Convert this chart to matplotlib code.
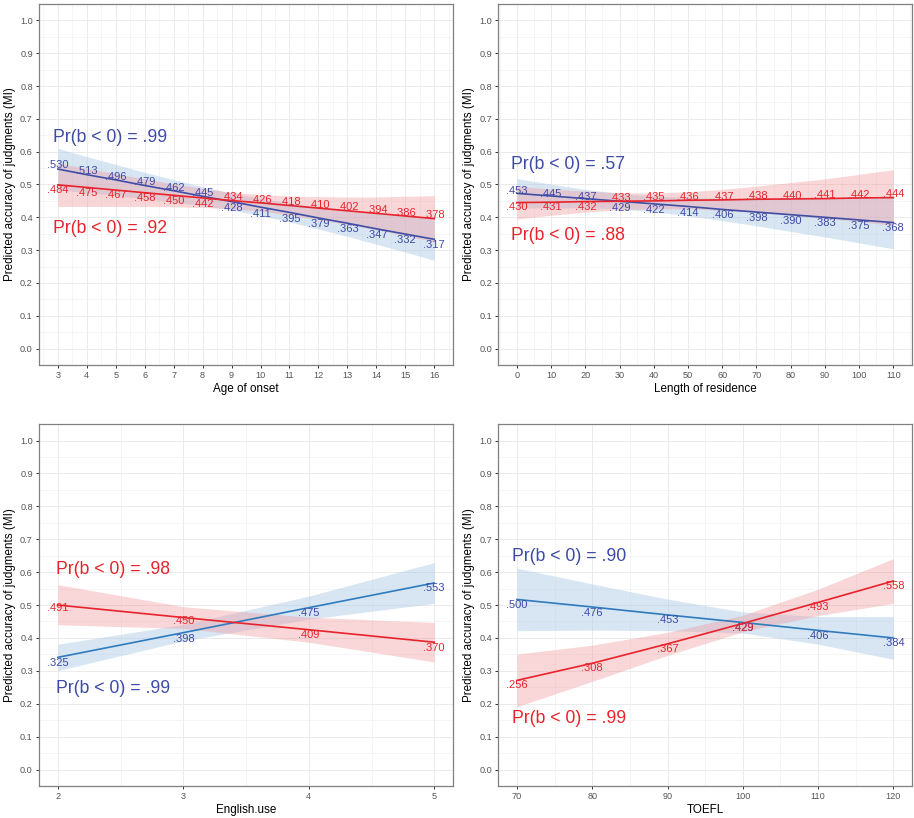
import numpy as np
import matplotlib.pyplot as plt
from matplotlib.ticker import MultipleLocator

plt.rcParams["font.family"] = ["Liberation Sans", "DejaVu Sans"]

RED = "#e8232b"
BLUE_TXT = "#3d4aa6"
BLUE_TOP = "#3f4fa6"
BLUE_BOT = "#2f7bbd"

# --- Age of onset ---
age_x = [3, 4, 5, 6, 7, 8, 9, 10, 11, 12, 13, 14, 15, 16]
age_blue_lab = [.530, .513, .496, .479, .462, .445, .428, .411, .395, .379, .363, .347, .332, .317]
age_red_lab = [.484, .475, .467, .458, .450, .442, .434, .426, .418, .410, .402, .394, .386, .378]
age_blue_fit = [.547, .530, .514, .497, .481, .464, .448, .431, .415, .398, .382, .365, .349, .333]
age_blue_hi = [.610, .585, .561, .537, .515, .493, .474, .457, .444, .432, .422, .412, .404, .397]
age_blue_lo = [.484, .475, .467, .457, .447, .435, .422, .405, .386, .364, .342, .318, .294, .269]
age_red_fit = [.499, .491, .483, .475, .467, .459, .451, .444, .436, .428, .420, .412, .404, .396]
age_red_hi = [.565, .549, .533, .517, .502, .488, .476, .469, .465, .463, .462, .462, .464, .466]
age_red_lo = [.433, .433, .433, .433, .432, .430, .426, .419, .407, .393, .378, .362, .344, .326]

# --- Length of residence ---
lor_x = [0, 10, 20, 30, 40, 50, 60, 70, 80, 90, 100, 110]
lor_blue_lab = [.453, .445, .437, .429, .422, .414, .406, .398, .390, .383, .375, .368]
lor_red_lab = [.430, .431, .432, .433, .435, .436, .437, .438, .440, .441, .442, .444]
lor_blue_fit = [.473, .465, .457, .449, .441, .433, .424, .416, .408, .400, .392, .384]
lor_blue_hi = [.518, .501, .485, .473, .465, .461, .458, .458, .459, .460, .462, .464]
lor_blue_lo = [.428, .429, .429, .425, .417, .405, .390, .374, .357, .340, .322, .304]
lor_red_fit = [.445, .446, .448, .449, .450, .452, .453, .455, .456, .457, .459, .460]
lor_red_hi = [.495, .486, .480, .475, .474, .478, .485, .495, .506, .517, .531, .545]
lor_red_lo = [.395, .406, .416, .423, .426, .426, .421, .415, .406, .397, .387, .375]

# --- English use ---
eng_x = [2, 3, 4, 5]
eng_blue_lab = [.325, .398, .475, .553]
eng_red_lab = [.491, .450, .409, .370]
eng_blue_fit = [.341, .416, .492, .567]
eng_blue_hi = [.381, .441, .527, .629]
eng_blue_lo = [.301, .391, .457, .505]
eng_red_fit = [.500, .462, .425, .387]
eng_red_hi = [.562, .495, .463, .447]
eng_red_lo = [.440, .429, .387, .327]

# --- TOEFL ---
toefl_x = [70, 80, 90, 100, 110, 120]
toefl_blue_lab = [.500, .476, .453, .429, .406, .384]
toefl_red_lab = [.256, .308, .367, .429, .493, .558]
toefl_blue_fit = [.517, .494, .470, .447, .423, .400]
toefl_blue_hi = [.612, .564, .518, .479, .465, .465]
toefl_blue_lo = [.422, .424, .422, .415, .381, .335]
toefl_red_fit = [.271, .323, .382, .444, .508, .573]
toefl_red_hi = [.351, .378, .417, .469, .548, .641]
toefl_red_lo = [.191, .268, .347, .419, .468, .505]


def fmt(v):
    return f"{v:.3f}"[1:]


def panel(ax, x, blab, rlab, bfit, bhi, blo, rfit, rhi, rlo, blue_line,
          xlabel, xticks, minor, nudge, pr_blue, pr_red):
    ax.fill_between(x, blo, bhi, color="#a9c9e6", alpha=0.45, lw=0)
    ax.fill_between(x, rlo, rhi, color="#f09a9e", alpha=0.4, lw=0)
    ax.plot(x, bfit, color=blue_line, lw=1.2)
    ax.plot(x, rfit, color=RED, lw=1.2)
    for xi, b, r in zip(x, blab, rlab):
        db = nudge if (nudge and b >= r) else 0
        dr = nudge if (nudge and r > b) else 0
        ax.text(xi, b + db, fmt(b), color=BLUE_TXT, fontsize=8,
                ha="center", va="center")
        ax.text(xi, r + dr, fmt(r), color=RED, fontsize=8,
                ha="center", va="center")
    ax.text(pr_blue[0], pr_blue[1], "Pr(b < 0) = " + pr_blue[2], color=BLUE_TXT,
            fontsize=12.7, ha="left", va="center")
    ax.text(pr_red[0], pr_red[1], "Pr(b < 0) = " + pr_red[2], color=RED,
            fontsize=12.7, ha="left", va="center")

    span = x[-1] - x[0]
    ax.set_xlim(x[0] - 0.05 * span, x[-1] + 0.05 * span)
    ax.set_ylim(-0.05, 1.05)
    ax.set_xticks(xticks)
    ax.xaxis.set_minor_locator(MultipleLocator(minor))
    ax.set_yticks(np.arange(0, 1.01, 0.1))
    ax.yaxis.set_minor_locator(MultipleLocator(0.05))
    ax.set_yticklabels([f"{v:.1f}" for v in np.arange(0, 1.01, 0.1)])
    ax.grid(which="major", color="#ebebeb", lw=0.7)
    ax.grid(which="minor", color="#f2f2f2", lw=0.5)
    ax.set_axisbelow(True)
    ax.tick_params(which="major", length=2.5, width=0.7, color="#333333",
                   labelcolor="#555555", labelsize=6.6, pad=2)
    ax.tick_params(which="minor", length=0)
    for s in ax.spines.values():
        s.set_color("#808080")
        s.set_linewidth(0.9)
    ax.set_xlabel(xlabel, fontsize=8.4, labelpad=2)
    ax.set_ylabel("Predicted accuracy of judgments (MI)", fontsize=8.4, labelpad=3)


fig = plt.figure(figsize=(9.14, 8.18), dpi=100)
ax1 = fig.add_axes([0.0427, 0.5538, 0.453, 0.4413])
ax2 = fig.add_axes([0.545, 0.5538, 0.453, 0.4413])
ax3 = fig.add_axes([0.0427, 0.0391, 0.453, 0.4425])
ax4 = fig.add_axes([0.545, 0.0391, 0.453, 0.4425])

panel(ax1, age_x, age_blue_lab, age_red_lab, age_blue_fit, age_blue_hi, age_blue_lo,
      age_red_fit, age_red_hi, age_red_lo, BLUE_TOP, "Age of onset", age_x, 0.5, 0.028,
      (2.83, 0.644, ".99"), (2.83, 0.366, ".92"))
panel(ax2, lor_x, lor_blue_lab, lor_red_lab, lor_blue_fit, lor_blue_hi, lor_blue_lo,
      lor_red_fit, lor_red_hi, lor_red_lo, BLUE_TOP, "Length of residence", lor_x, 5, 0.026,
      (-1.6, 0.562, ".57"), (-1.6, 0.345, ".88"))
panel(ax3, eng_x, eng_blue_lab, eng_red_lab, eng_blue_fit, eng_blue_hi, eng_blue_lo,
      eng_red_fit, eng_red_hi, eng_red_lo, BLUE_BOT, "English.use", eng_x, 0.5, 0,
      (1.985, 0.246, ".99"), (1.985, 0.608, ".98"))
panel(ax4, toefl_x, toefl_blue_lab, toefl_red_lab, toefl_blue_fit, toefl_blue_hi, toefl_blue_lo,
      toefl_red_fit, toefl_red_hi, toefl_red_lo, BLUE_BOT, "TOEFL", toefl_x, 5, 0,
      (69.3, 0.649, ".90"), (69.3, 0.156, ".99"))

fig.savefig("out.png", dpi=100)
